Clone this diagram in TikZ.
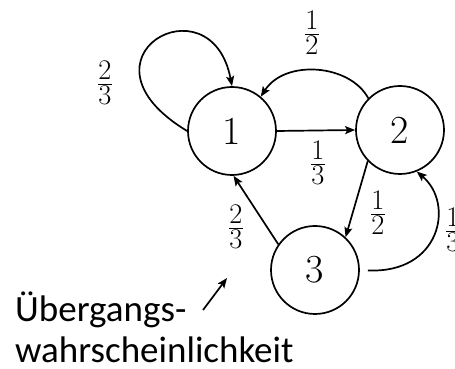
\documentclass[tikz,border=0pt]{standalone}
\usepackage{fontspec}
\newfontfamily\annfont{Carlito}
\usetikzlibrary{arrows.meta}
\newcommand{\statelabel}[1]{\scalebox{1.6}{\Huge #1}}
\tikzset{
  state/.style={circle,draw,line width=1.7pt,minimum size=88pt,inner sep=0pt},
  edge/.style={line width=1.7pt,-{Stealth[length=10pt,width=8pt,inset=2pt]}},
  prob/.style={font=\Huge,inner sep=0pt,scale=1.37,transform shape},
  anntext/.style={font=\annfont\fontsize{37}{40}\selectfont,inner sep=0pt,anchor=base west}
}
\begin{document}
\begin{tikzpicture}[x=1pt,y=1pt]
\useasboundingbox (0,0) rectangle (455,369);
\node[state] (n1) at (232,238) {\statelabel{1}};
\node[state] (n2) at (400,239) {\statelabel{2}};
\node[state] (n3) at (315,99) {\statelabel{3}};
% edges
\draw[edge] (n1.west) .. controls (66,311) and (211,392) .. (n1.north);
\draw[edge] (n2.135) .. controls (350,305) and (285,310) .. (n1.50);
\draw[edge] (n1.east) -- (n2.west);
\draw[edge] (n2.224) -- (n3.47);
\draw[edge] (n3.145) -- (n1.272);
\draw[edge,shorten <=8pt] (n3.east) .. controls (440,95) and (455,165) .. (n2.292);
% labels
\node[prob] (l11) at (105,286) {$\frac{2}{3}$};
\node[prob] (l21) at (312,336) {$\frac{1}{2}$};
\node[prob] (l12) at (318,206) {$\frac{1}{3}$};
\node[prob] (l23) at (378,156) {$\frac{1}{2}$};
\node[prob] (l31) at (236,142) {$\frac{2}{3}$};
\node[prob] (l32) at (453,139) {$\frac{1}{3}$};
% annotation
\node[anntext] (t1) at (15,47) {Übergangs-};
\node[anntext] (t2) at (15,6) {wahrscheinlichkeit};
\coordinate (a1) at (203,59);
\coordinate (a2) at (227,91);
\draw[edge] (a1) -- (a2);
\end{tikzpicture}
\end{document}
